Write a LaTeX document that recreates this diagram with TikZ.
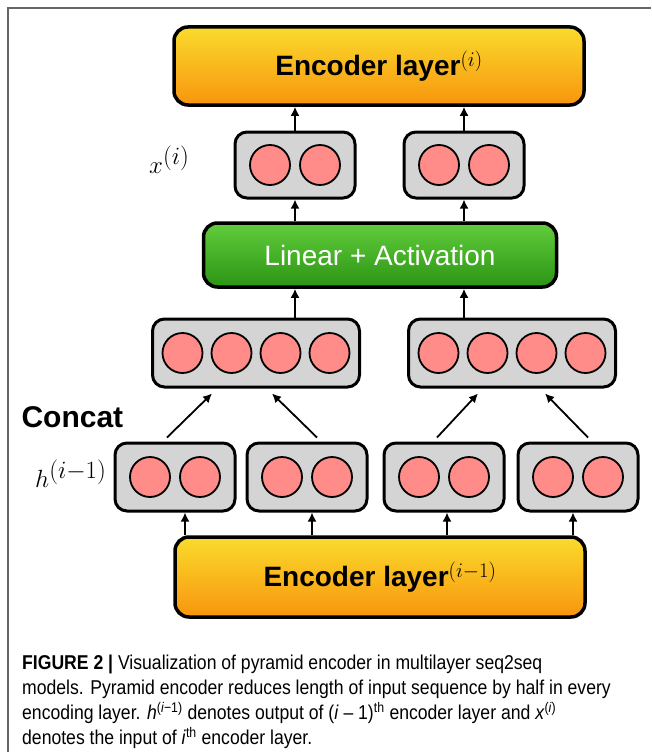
\documentclass[tikz,border=0pt]{standalone}
\usepackage[no-math]{fontspec}
\setmainfont{Liberation Sans}
\newfontfamily\capfont[FakeStretch=0.88]{Liberation Sans}
\usetikzlibrary{arrows.meta}

\definecolor{encTop}{HTML}{FADB2C}
\definecolor{encBot}{HTML}{F8950E}
\definecolor{linTop}{HTML}{62CD3C}
\definecolor{linBot}{HTML}{2B9414}
\definecolor{boxGray}{HTML}{D4D4D4}
\definecolor{unitPink}{HTML}{FF8C88}
\definecolor{frameGray}{HTML}{666666}

\begin{document}
\begin{tikzpicture}[x=1pt, y=-1pt,
  encbox/.style={draw=black, line width=3.5pt, rounded corners=14pt,
    top color=encTop, bottom color=encBot, minimum width=410pt,
    minimum height=78pt, font=\bfseries\fontsize{28}{30}\selectfont},
  linbox/.style={draw=black, line width=3.5pt, rounded corners=14pt,
    top color=linTop, bottom color=linBot, text=white, minimum width=353pt,
    minimum height=64pt, font=\fontsize{28}{30}\selectfont},
  vecbox/.style={draw=black, line width=3pt, rounded corners=12pt,
    fill=boxGray, minimum height=68pt},
  unit/.style={circle, draw=black, line width=1.8pt, fill=unitPink,
    minimum size=40pt, inner sep=0pt},
  arr/.style={-{Latex[length=9pt,width=9pt]}, line width=1.8pt},
  lab/.style={font=\fontsize{33}{35}\selectfont}]
  \useasboundingbox (0,0) rectangle (651,752);
  \draw[frameGray, line width=1.5pt] (651,8) -- (8,8) -- (8,752);

  % encoder layers
  \node[encbox] (encout) at (379,66) {Encoder layer$^{(i)}$};
  \node[encbox, minimum height=80pt] (encin) at (380,577) {Encoder layer$^{(i-1)}$};
  \node[linbox] (lin) at (380,255) {Linear + Activation};

  % vectors
  \node[vecbox, minimum width=120pt, minimum height=66pt] (xa) at (295,165) {};
  \node[vecbox, minimum width=120pt, minimum height=66pt] (xb) at (464,165) {};
  \node[vecbox, minimum width=207pt] (ca) at (256,353) {};
  \node[vecbox, minimum width=207pt] (cb) at (512,353) {};
  \node[vecbox, minimum width=120pt] (ha) at (175,477) {};
  \node[vecbox, minimum width=120pt] (hb) at (307,477) {};
  \node[vecbox, minimum width=120pt] (hc) at (444,477) {};
  \node[vecbox, minimum width=120pt] (hd) at (578,477) {};
  \foreach \b in {xa,xb,ha,hb,hc,hd}
    \foreach \dx [count=\i] in {-25,25}
      \node[unit] (\b-\i) at ([xshift=\dx pt]\b.center) {};
  \foreach \b in {ca,cb}
    \foreach \dx [count=\i] in {-73.5,-24.5,24.5,73.5}
      \node[unit] (\b-\i) at ([xshift=\dx pt]\b.center) {};

  % labels
  \node[lab, anchor=east] (xlab) at (193,160) {$x^{(i)}$};
  \node[lab, anchor=east] (hlab) at (110,474) {$h^{(i-1)}$};
  \node[anchor=west, font=\bfseries\fontsize{30}{32}\selectfont] (concat) at (18,417) {Concat};

  % arrows
  \draw[arr] (xa.north) -- (xa.north |- encout.south);
  \draw[arr] (xb.north) -- (xb.north |- encout.south);
  \draw[arr] (lin.north -| xa) -- (xa.south);
  \draw[arr] (lin.north -| xb) -- (xb.south);
  \draw[arr] (ca.north -| xa) -- (lin.south -| xa);
  \draw[arr] (cb.north -| xb) -- (lin.south -| xb);
  \draw[arr] ([xshift=-8pt,yshift=4pt]ha.north) -- ([xshift=-44pt,yshift=-5pt]ca.south);
  \draw[arr] ([xshift=10pt,yshift=4pt]hb.north) -- ([xshift=16pt,yshift=-5pt]ca.south);
  \draw[arr] ([xshift=-7pt,yshift=4pt]hc.north) -- ([xshift=-34pt,yshift=-5pt]cb.south);
  \draw[arr] ([xshift=10pt,yshift=4pt]hd.north) -- ([xshift=33pt,yshift=-5pt]cb.south);
  \coordinate (fa) at (185,0);
  \coordinate (fb) at (312,0);
  \coordinate (fc) at (447,0);
  \coordinate (fd) at (573,0);
  \draw[arr] (encin.north -| fa) -- (ha.south -| fa);
  \draw[arr] (encin.north -| fb) -- (hb.south -| fb);
  \draw[arr] (encin.north -| fc) -- (hc.south -| fc);
  \draw[arr] (encin.north -| fd) -- (hd.south -| fd);

  % caption
  \node[anchor=north west, align=left, inner sep=0pt,
    font=\capfont\fontsize{20}{25}\selectfont] (caption) at (22,655)
    {{\bfseries FIGURE 2 |} Visualization of pyramid encoder in multilayer seq2seq\\
     models. Pyramid encoder reduces length of input sequence by half in every\\
     encoding layer. \textit{h}\textsuperscript{(\textit{i}−1)} denotes output of
     (\textit{i} – 1)\textsuperscript{th} encoder layer and \textit{x}\textsuperscript{(\textit{i})}\\
     denotes the input of \textit{i}\textsuperscript{th} encoder layer.};
\end{tikzpicture}
\end{document}
